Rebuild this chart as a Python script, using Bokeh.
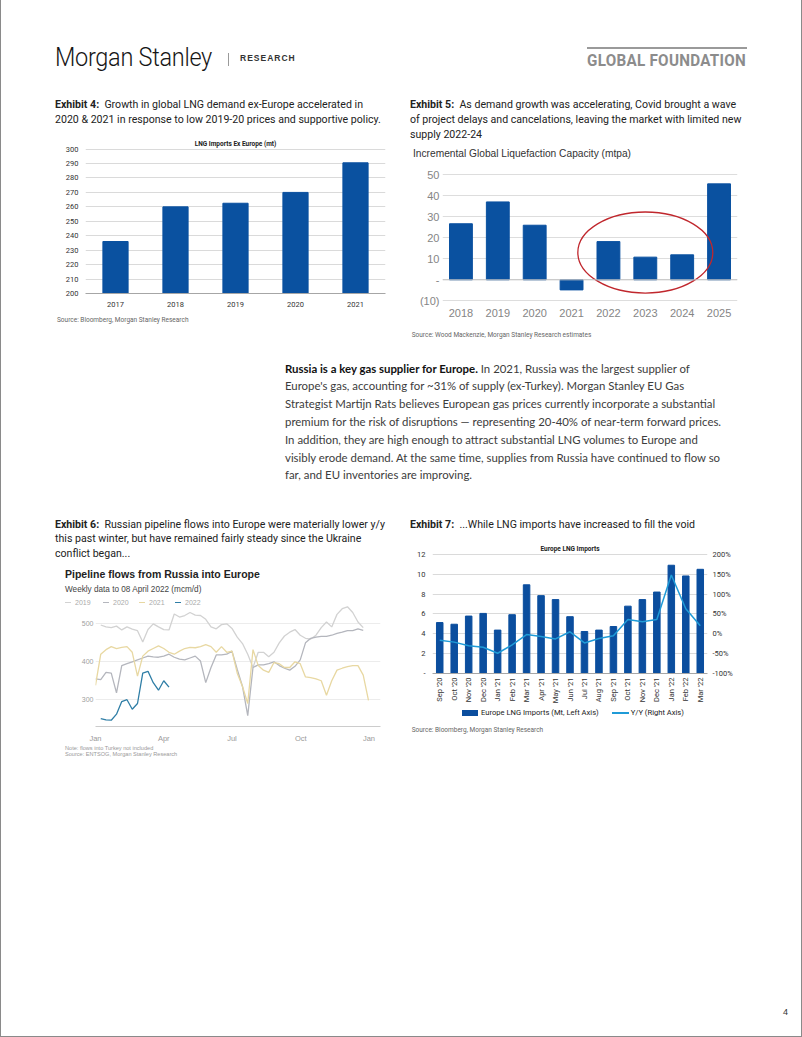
import math
from bokeh.plotting import figure
from bokeh.models import (Div, Spacer, Range1d, FactorRange, FixedTicker, LinearAxis, Label,
                          PrintfTickFormatter, Span)
from bokeh.layouts import column, row
from bokeh.embed import file_html
from bokeh.resources import INLINE

# ---------------- data ----------------
ex4_years = ["2017", "2018", "2019", "2020", "2021"]
ex4_lng_imports_mt = [236, 260, 262.5, 270, 290.5]
ex4_yticks = [200, 210, 220, 230, 240, 250, 260, 270, 280, 290, 300]

ex5_years = ["2018", "2019", "2020", "2021", "2022", "2023", "2024", "2025"]
ex5_capacity_mtpa = [26.7, 37.1, 26.0, -4.8, 18.2, 10.8, 11.9, 45.7]
ex5_yticks = [-10, 0, 10, 20, 30, 40, 50]
ex5_ylabels = {-10: "(10)", 0: "-"}
ex5_circle_x = ["2023"]
ex5_circle_y = [13]

ex6_weeks_2019 = list(range(1, 52))
ex6_flow_2019 = [497, 492, 490, 494, 484, 492, 486, 482, 452, 485, 500, 492, 485, 484, 526, 518,
                 522, 530, 523, 522, 512, 492, 487, 498, 500, 488, 465, 448, 420, 385, 425, 425,
                 413, 425, 450, 468, 478, 485, 470, 462, 460, 470, 490, 505, 492, 525, 540, 545,
                 530, 505, 490]
ex6_weeks_2020 = list(range(0, 52))
ex6_flow_2020 = [355, 353, 372, 370, 318, 390, 395, 400, 405, 410, 415, 413, 412, 415, 420, 412,
                 407, 405, 410, 415, 402, 345, 385, 418, 418, 420, 428, 380, 335, 258, 385, 392,
                 392, 395, 400, 390, 383, 378, 388, 405, 450, 462, 465, 467, 467, 470, 475, 478,
                 482, 482, 487, 483]
ex6_weeks_2021 = list(range(0, 53))
ex6_flow_2021 = [338, 420, 432, 440, 435, 438, 440, 425, 362, 415, 428, 435, 442, 435, 425, 420,
                 428, 435, 438, 437, 440, 445, 440, 425, 440, 425, 428, 370, 335, 290, 432, 390,
                 378, 372, 398, 395, 385, 385, 400, 395, 360, 358, 355, 350, 312, 350, 378, 383,
                 387, 390, 390, 365, 298]
ex6_weeks_2022 = list(range(1, 15))
ex6_flow_2022 = [250, 247, 246, 262, 295, 300, 275, 290, 370, 375, 345, 325, 350, 333]
ex6_series = ["2019", "2020", "2021", "2022"]
ex6_colors = ["#d2d2d2", "#b4b6bd", "#e8d8a2", "#2f7ea6"]
ex6_xticks = [0, 13, 26, 39.1, 52.1]
ex6_xlabels = ["Jan", "Apr", "Jul", "Oct", "Jan"]
ex6_yticks = [300, 400, 500]

ex7_months = ["Sep '20", "Oct '20", "Nov '20", "Dec '20", "Jan '21", "Feb '21", "Mar '21",
              "Apr '21", "May '21", "Jun '21", "Jul '21", "Aug '21", "Sep '21", "Oct '21",
              "Nov '21", "Dec '21", "Jan '22", "Feb '22", "Mar '22"]
ex7_imports_mt = [5.13, 4.96, 5.78, 6.05, 4.37, 5.92, 8.93, 7.84, 7.44, 5.72, 4.23, 4.37, 4.73,
                  6.78, 7.44, 8.2, 10.9, 9.82, 10.49]
ex7_yoy_pct = [-16, -21, -30, -34, -49, -28, -2, -7, -13, 5, -23, -12, -5, 36, 30, 36, 148, 63, 20]
ex7_left_ticks = [0, 2, 4, 6, 8, 10, 12]
ex7_right_ticks = [-100, -50, 0, 50, 100, 150, 200]
ex7_legend = ["Europe LNG Imports (Mt, Left Axis)", "Y/Y (Right Axis)"]

BLUE = "#0A51A0"
BLUE7 = "#0B4E9E"
CYAN7 = "#1F9BD7"


# ---------------- helpers ----------------
def text_div(w, h, items):
    parts = []
    for left, cy, fs, html, extra in items:
        lh = round(fs * 1.3, 1)
        parts.append(
            f'<div style="position:absolute;left:{left}px;top:{cy - lh / 2:.1f}px;'
            f'font-size:{fs}px;line-height:{lh}px;white-space:nowrap;{extra}">{html}</div>')
    inner = (f'<div style="position:relative;width:{w}px;height:{h}px;overflow:visible;">'
             + "".join(parts) + '</div>')
    return Div(text=inner, width=w, height=h, margin=(0, 0, 0, 0))


def box(left, top, w, h, color):
    return (f'<div style="position:absolute;left:{left}px;top:{top}px;width:{w}px;'
            f'height:{h}px;background:{color};"></div>')


def base_fig(w, h, x_range, y_range, ml, mr, mt, mb):
    p = figure(width=w, height=h, x_range=x_range, y_range=y_range, output_backend="svg",
               toolbar_location=None, min_border_left=ml, min_border_right=mr,
               min_border_top=mt, min_border_bottom=mb, margin=(0, 0, 0, 0))
    p.outline_line_color = None
    p.background_fill_color = "white"
    p.border_fill_color = "white"
    return p


def style_axis(ax, size, color, font, standoff):
    ax.axis_line_color = None
    ax.major_tick_line_color = None
    ax.minor_tick_line_color = None
    ax.major_tick_out = 0
    ax.major_tick_in = 0
    ax.minor_tick_out = 0
    ax.minor_tick_in = 0
    ax.major_label_text_font_size = size
    ax.major_label_text_color = color
    ax.major_label_text_font = font
    ax.major_label_standoff = standoff


RB = "font-family:Roboto;color:#222;"
ARIAL = "font-family:'Liberation Sans',Arial;"
FS_T = 10.6

# ---------------- header (page coordinates) ----------------
header = Div(width=802, height=90, margin=(0, 0, 0, 0), text=(
    '<div style="position:relative;width:802px;height:90px;overflow:visible;">'
    + box(0, 0, 1, 1037, "#8a8a8a") + box(801, 0, 1, 1037, "#8a8a8a") + box(0, 1036, 802, 1, "#8a8a8a")
    + '<div style="position:absolute;left:55px;top:44px;font-family:Roboto;font-weight:300;'
      'font-size:25px;line-height:28px;color:#161616;white-space:nowrap;transform:scaleX(0.94);'
      'transform-origin:left center;letter-spacing:-0.3px;">Morgan Stanley</div>'
    + box(228, 53, 1, 13, "#9a9a9a")
    + '<div style="position:absolute;left:240px;top:53px;font-family:\'Liberation Sans\';font-weight:bold;'
      'font-size:8.5px;line-height:11px;color:#333;letter-spacing:1px;white-space:nowrap;">RESEARCH</div>'
    + box(587, 47, 160, 2, "#9a9a9a")
    + '<div style="position:absolute;left:587px;top:52px;font-family:Roboto;font-weight:bold;'
      'font-size:16px;line-height:18px;color:#8c8c8c;letter-spacing:0.3px;white-space:nowrap;'
      'transform:scaleX(0.95);transform-origin:left center;">GLOBAL FOUNDATION</div>'
    + '</div>'))

# ---------------- exhibit 4 ----------------
title4 = text_div(335, 44, [
    (0, 14.5, FS_T, "<b>Exhibit 4:</b>&nbsp; Growth in global LNG demand ex-Europe accelerated in", RB),
    (0, 29.5, FS_T, "2020 &amp; 2021 in response to low 2019-20 prices and supportive policy.", RB),
])

p4 = base_fig(335, 180, FactorRange(factors=ex4_years), Range1d(200, 310.1), 30, 5, 0, 21)
p4.vbar(x=ex4_years, top=ex4_lng_imports_mt, bottom=200, width=0.42, color=BLUE)
style_axis(p4.yaxis[0], "7.5px", "#333333", "Roboto", 7)
p4.yaxis.ticker = FixedTicker(ticks=ex4_yticks)
style_axis(p4.xaxis[0], "7.5px", "#333333", "Roboto", 8)
p4.xaxis.axis_line_color = "#a6a6a6"
p4.xgrid.visible = False
p4.ygrid.ticker = FixedTicker(ticks=ex4_yticks)
p4.ygrid.grid_line_color = "#dadada"
p4.add_layout(Label(x=2.5, y=303.7, text="LNG Imports Ex Europe (mt)", text_align="center",
                    text_baseline="middle", text_font_size="6.5px", text_font_style="bold",
                    text_font="Roboto", text_color="#222222"))
src4 = text_div(335, 31, [(2, 6, 6.5, "Source: Bloomberg, Morgan Stanley Research",
                           "font-family:Roboto;color:#666;")])
col4 = column(title4, p4, src4, spacing=0)

# ---------------- exhibit 5 ----------------
title5 = text_div(335, 73, [
    (0, 14.5, FS_T, "<b>Exhibit 5:</b>&nbsp; As demand growth was accelerating, Covid brought a wave", RB),
    (0, 29.5, FS_T, "of project delays and cancelations, leaving the market with limited new", RB),
    (0, 44.5, FS_T, "supply 2022-24", RB),
    (3, 63.5, 10.2, "Incremental Global Liquefaction Capacity (mtpa)", ARIAL + "color:#333;"),
])
p5 = base_fig(335, 159, FactorRange(factors=ex5_years), Range1d(-10.8, 55.4), 32, 8, 0, 20)
p5.vbar(x=ex5_years, top=ex5_capacity_mtpa, bottom=0, width=0.62, color=BLUE)
style_axis(p5.yaxis[0], "11px", "#858585", "Liberation Sans", 3)
p5.yaxis.ticker = FixedTicker(ticks=ex5_yticks)
p5.yaxis.major_label_overrides = ex5_ylabels
style_axis(p5.xaxis[0], "11px", "#858585", "Liberation Sans", 6)
p5.xgrid.visible = False
p5.ygrid.ticker = FixedTicker(ticks=ex5_yticks)
p5.ygrid.grid_line_color = "#dddddd"
p5.add_layout(Span(location=0, dimension="width", line_color="#c4c4c4", line_width=1))
p5.ellipse(x=ex5_circle_x, y=ex5_circle_y, width=3.66, height=38.6, fill_color=None,
           line_color="#C0272D", line_width=1.3)
src5 = text_div(335, 23, [(1.7, 13.7, 6.5, "Source: Wood Mackenzie, Morgan Stanley Research estimates",
                           "font-family:Roboto;color:#666;")])
col5 = column(title5, p5, src5, spacing=0)

# ---------------- paragraph ----------------
para_lines = [
    "<b style='color:#111'>Russia is a key gas supplier for Europe.</b> In 2021, Russia was the largest supplier of",
    "Europe's gas, accounting for ~31% of supply (ex-Turkey). Morgan Stanley EU Gas",
    "Strategist Martijn Rats believes European gas prices currently incorporate a substantial",
    "premium for the risk of disruptions — representing 20-40% of near-term forward prices.",
    "In addition, they are high enough to attract substantial LNG volumes to Europe and",
    "visibly erode demand. At the same time, supplies from Russia have continued to flow so",
    "far, and EU inventories are improving.",
]
para = text_div(480, 145, [(0, 24 + i * 17.8, 11.4, t, "font-family:Lato;color:#3c3c3c;")
                           for i, t in enumerate(para_lines)])

# ---------------- exhibit 6 ----------------
title6 = text_div(335, 72, [
    (0, 34.5, FS_T, "<b>Exhibit 6:</b>&nbsp; Russian pipeline flows into Europe were materially lower y/y", RB),
    (0, 49, FS_T, "this past winter, but have remained fairly steady since the Ukraine", RB),
    (0, 63.5, FS_T, "conflict began...", RB),
])
leg6_x = [10, 48, 84, 120]
leg6_items = [(lx, 40, 7,
               f'<span style="display:inline-block;width:6px;height:1.5px;background:{c};'
               f'vertical-align:middle;margin-right:4px;"></span>{s}',
               ARIAL + "color:#aaaaaa;")
              for lx, s, c in zip(leg6_x, ex6_series, ex6_colors)]
head6 = text_div(335, 43, [
    (10, 12.5, 10.5, "Pipeline flows from Russia into Europe", ARIAL + "font-weight:bold;color:#222;"),
    (10, 28.4, 8.2, "Weekly data to 08 April 2022 (mcm/d)", ARIAL + "color:#444;"),
] + leg6_items)
p6 = base_fig(335, 140, Range1d(0, 54.29), Range1d(229.4, 548.4), 40, 10, 0, 18)
for xs, ys, c in zip([ex6_weeks_2019, ex6_weeks_2020, ex6_weeks_2021, ex6_weeks_2022],
                     [ex6_flow_2019, ex6_flow_2020, ex6_flow_2021, ex6_flow_2022], ex6_colors):
    p6.line(xs, ys, line_color=c, line_width=1.3)
style_axis(p6.yaxis[0], "7px", "#a0a0a0", "Liberation Sans", 2)
p6.yaxis.ticker = FixedTicker(ticks=ex6_yticks)
style_axis(p6.xaxis[0], "7.5px", "#9a9a9a", "Liberation Sans", 7)
p6.xaxis.axis_line_color = "#cccccc"
p6.xaxis.ticker = FixedTicker(ticks=ex6_xticks)
p6.xaxis.major_label_overrides = {t: l for t, l in zip(ex6_xticks, ex6_xlabels)}
p6.xgrid.visible = False
p6.ygrid.ticker = FixedTicker(ticks=ex6_yticks)
p6.ygrid.grid_line_color = "#ececec"
notes6 = text_div(335, 20, [
    (10, 3.3, 5.6, "Note: flows into Turkey not included", ARIAL + "color:#999;"),
    (10, 10, 5.6, "Source: ENTSOG, Morgan Stanley Research", ARIAL + "color:#999;"),
])
col6 = column(title6, head6, p6, notes6, spacing=0)

# ---------------- exhibit 7 ----------------
title7 = text_div(335, 51, [
    (0, 35, FS_T, "<b>Exhibit 7:</b>&nbsp; ...While LNG imports have increased to fill the void", RB),
])
p7 = base_fig(335, 165, FactorRange(factors=ex7_months), Range1d(0, 13.29), 22, 38, 0, 31)
p7.extra_y_ranges = {"yoy": Range1d(-100, 232.3)}
p7.vbar(x=ex7_months, top=ex7_imports_mt, bottom=0, width=0.45, color=BLUE7)
p7.line(x=ex7_months, y=ex7_yoy_pct, y_range_name="yoy", line_color=CYAN7, line_width=1.5)
style_axis(p7.yaxis[0], "7.5px", "#333333", "Roboto", 7)
p7.yaxis.ticker = FixedTicker(ticks=ex7_left_ticks)
p7.yaxis.major_label_overrides = {0: "-"}
ax_r = LinearAxis(y_range_name="yoy", ticker=FixedTicker(ticks=ex7_right_ticks),
                  formatter=PrintfTickFormatter(format="%d%%"))
style_axis(ax_r, "7.5px", "#333333", "Roboto", 5)
p7.add_layout(ax_r, "right")
style_axis(p7.xaxis[0], "7.5px", "#333333", "Roboto", 4)
p7.xaxis.axis_line_color = "#a6a6a6"
p7.xaxis.major_label_orientation = math.pi / 2
p7.xgrid.visible = False
p7.ygrid.ticker = FixedTicker(ticks=ex7_left_ticks)
p7.ygrid.grid_line_color = "#dadada"
p7.add_layout(Label(x=9.5, y=12.5, text="Europe LNG Imports", text_align="center",
                    text_baseline="middle", text_font_size="6.5px", text_font_style="bold",
                    text_font="Roboto", text_color="#222222"))
leg7 = (f'<span style="display:inline-block;width:16px;height:6px;background:{BLUE7};'
        f'vertical-align:middle;margin-right:3px;"></span>{ex7_legend[0]}'
        f'<span style="display:inline-block;width:17px;height:1.5px;background:{CYAN7};'
        f'vertical-align:middle;margin:0 2px 0 13px;"></span>{ex7_legend[1]}')
src7 = text_div(335, 59, [
    (52, 7, 7.6, leg7, "font-family:Roboto;color:#222;"),
    (1.7, 24, 6.5, "Source: Bloomberg, Morgan Stanley Research", "font-family:Roboto;color:#666;"),
])
col7 = column(title7, p7, src7, spacing=0)

# ---------------- footer ----------------
footer = text_div(802, 30, [(783, 13, 9, "4", ARIAL + "color:#333;")])

# ---------------- page ----------------
page = column(
    header,
    row(Spacer(width=55, height=255), col4, Spacer(width=20, height=255), col5, spacing=0),
    row(Spacer(width=285, height=145), para, spacing=0),
    row(Spacer(width=55, height=275), col6, Spacer(width=20, height=275), col7, spacing=0),
    Spacer(width=802, height=235),
    footer,
    spacing=0,
)

open("out.html", "w").write(file_html(page, INLINE, title="Global Foundation"))
